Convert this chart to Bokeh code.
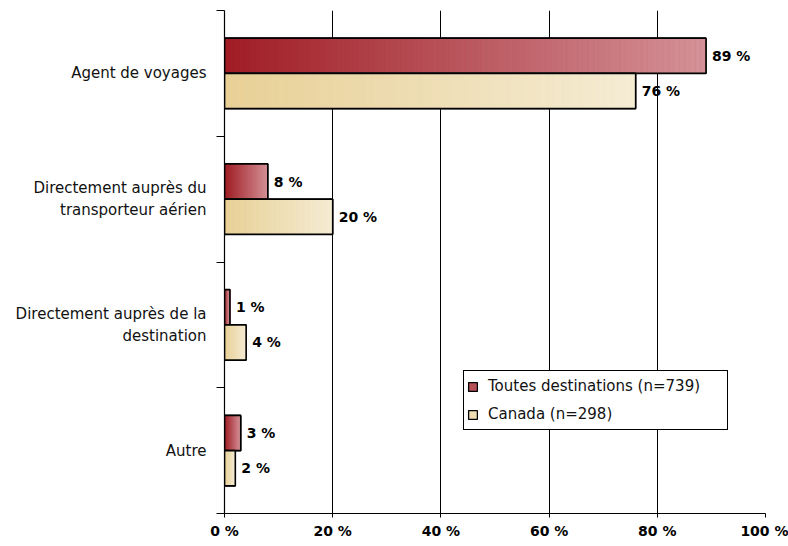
from bokeh.plotting import figure
from bokeh.models import (ColumnDataSource, Range1d, FixedTicker, Legend, LegendItem)
from bokeh.core.properties import value
from bokeh.embed import file_html
from bokeh.resources import INLINE

categories = ["Agent de voyages",
              "Directement auprès du\ntransporteur aérien",
              "Directement auprès de la\ndestination",
              "Autre"]
toutes = [89, 8, 1, 3]
canada = [76, 20, 4, 2]
series_names = ["Toutes destinations (n=739)", "Canada (n=298)"]
x_ticks = [0, 20, 40, 60, 80, 100]

FONT = "DejaVu Sans"
BAR_H = 0.28
N_SLICES = 90

red_left, red_right = (160, 28, 36), (212, 146, 152)
tan_left, tan_right = (232, 208, 150), (245, 236, 212)


def hexcol(c0, c1, t):
    return "#%02x%02x%02x" % tuple(int(round(a + (b - a) * t)) for a, b in zip(c0, c1))


p = figure(width=788, height=546, output_backend="svg", toolbar_location=None,
           x_range=Range1d(0, 100), y_range=Range1d(0, 4),
           min_border_left=224, min_border_right=23, min_border_top=10, min_border_bottom=33)
p.outline_line_color = None
p.background_fill_color = "white"
p.border_fill_color = "white"

n = len(categories)
centers = [n - 0.5 - i for i in range(n)]

legend_renderers = []
for vals, side, c0, c1 in [(toutes, 1, red_left, red_right), (canada, -1, tan_left, tan_right)]:
    sl = dict(left=[], right=[], bottom=[], top=[], color=[])
    ol = dict(left=[], right=[], bottom=[], top=[])
    for v, c in zip(vals, centers):
        b, t = (c, c + BAR_H) if side == 1 else (c - BAR_H, c)
        for k in range(N_SLICES):
            sl["left"].append(v * k / N_SLICES)
            sl["right"].append(v * (k + 1) / N_SLICES)
            sl["bottom"].append(b)
            sl["top"].append(t)
            sl["color"].append(hexcol(c0, c1, (k + 0.5) / N_SLICES))
        ol["left"].append(0)
        ol["right"].append(v)
        ol["bottom"].append(b)
        ol["top"].append(t)
    osrc = ColumnDataSource(ol)
    base = p.quad(left="left", right="right", bottom="bottom", top="top", source=osrc,
                  fill_color=hexcol(c0, c1, 0.45), line_color="black", line_width=1.3)
    legend_renderers.append(base)
    p.quad(left="left", right="right", bottom="bottom", top="top", source=ColumnDataSource(sl),
           fill_color="color", line_color="color", line_width=0.5)
    p.quad(left="left", right="right", bottom="bottom", top="top", source=osrc,
           fill_color=None, line_color="black", line_width=1.6)
    ys = [(bb + tt) / 2 for bb, tt in zip(ol["bottom"], ol["top"])]
    lab = ColumnDataSource(dict(x=vals, y=ys, t=["%d %%" % v for v in vals]))
    p.text(x="x", y="y", text="t", source=lab, x_offset=6, text_baseline="middle", text_align="left",
           text_font=value(FONT), text_font_style="bold", text_font_size="14px", text_color="black")

legend = Legend(items=[LegendItem(label=series_names[0], renderers=[legend_renderers[0]]),
                       LegendItem(label=series_names[1], renderers=[legend_renderers[1]])],
                location=(239, 83))
legend.label_text_font = FONT
legend.label_text_font_size = "15px"
legend.label_text_color = "#111111"
legend.glyph_width = 11
legend.glyph_height = 11
legend.label_standoff = 10
legend.label_width = 236
legend.label_height = 24
legend.padding = 3
legend.spacing = 4
legend.margin = 0
legend.border_line_color = "black"
legend.border_line_alpha = 1.0
legend.border_line_width = 1.5
legend.background_fill_color = "white"
legend.background_fill_alpha = 1
p.add_layout(legend, "center")

# x axis
p.xaxis.ticker = FixedTicker(ticks=x_ticks)
p.xaxis.major_label_overrides = {t: "%d %%" % t for t in x_ticks}
p.xaxis.major_label_text_font = FONT
p.xaxis.major_label_text_font_style = "bold"
p.xaxis.major_label_text_font_size = "14px"
p.xaxis.major_label_text_color = "black"
p.xaxis.major_tick_out = 4
p.xaxis.major_tick_in = 0
p.xaxis.minor_tick_line_color = None
p.xaxis.major_label_standoff = 5
p.xaxis.axis_line_color = "black"
p.xaxis.major_tick_line_color = "black"
p.xaxis.axis_line_width = 1.2

# y axis
p.yaxis.ticker = FixedTicker(ticks=centers, minor_ticks=list(range(n + 1)))
p.yaxis.major_label_overrides = {c: cat for c, cat in zip(centers, categories)}
p.yaxis.major_label_text_font = FONT
p.yaxis.major_label_text_font_size = "15px"
p.yaxis.major_label_text_color = "#111111"
p.yaxis.major_label_text_line_height = 1.25
p.yaxis.major_tick_out = 0
p.yaxis.major_tick_in = 0
p.yaxis.major_tick_line_color = None
p.yaxis.minor_tick_out = 8
p.yaxis.minor_tick_in = 0
p.yaxis.minor_tick_line_color = "black"
p.yaxis.major_label_standoff = 10
p.yaxis.axis_line_color = "black"
p.yaxis.axis_line_width = 1.2

p.xgrid.ticker = FixedTicker(ticks=x_ticks[1:])
p.xgrid.grid_line_color = "black"
p.xgrid.grid_line_width = 1
p.ygrid.grid_line_color = None

open("out.html", "w").write(file_html(p, INLINE))
